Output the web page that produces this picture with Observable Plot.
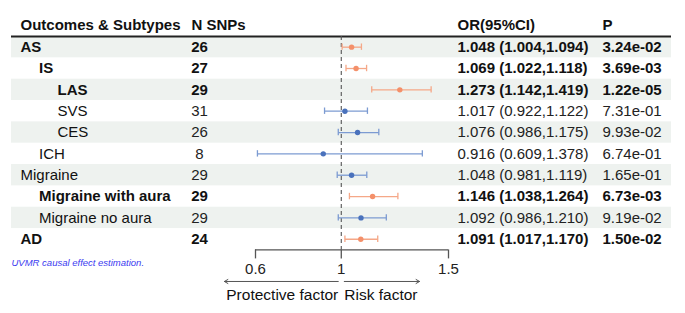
<!DOCTYPE html>
<html>
<head>
<meta charset="utf-8">
<script src="https://cdn.jsdelivr.net/npm/d3@7"></script>
<script src="https://cdn.jsdelivr.net/npm/@observablehq/plot@0.6"></script>
<style>
  html, body { margin: 0; padding: 0; background: #fff; }
  #chart svg { display: block; }
</style>
</head>
<body>
<div id="chart"></div>
<script>
const outcomes = ["AS", "IS", "LAS", "SVS", "CES", "ICH", "Migraine", "Migraine with aura", "Migraine no aura", "AD"];
const levels = [0, 1, 2, 2, 2, 1, 0, 1, 1, 0];
const nSnps = [26, 27, 29, 31, 26, 8, 29, 29, 29, 24];
const orValues = [1.048, 1.069, 1.273, 1.017, 1.076, 0.916, 1.048, 1.146, 1.092, 1.091];
const lowerCI = [1.004, 1.022, 1.142, 0.922, 0.986, 0.609, 0.981, 1.038, 0.986, 1.017];
const upperCI = [1.094, 1.118, 1.419, 1.122, 1.175, 1.378, 1.119, 1.264, 1.210, 1.170];
const pValues = ["3.24e-02", "3.69e-03", "1.22e-05", "7.31e-01", "9.93e-02", "6.74e-01", "1.65e-01", "6.73e-03", "9.19e-02", "1.50e-02"];
const significant = [true, true, true, false, false, false, false, true, false, true];
const xTicks = [0.6, 1, 1.5];
const headers = ["Outcomes & Subtypes", "N SNPs", "OR(95%CI)", "P"];
const arrowEnds = [0.455, 1.365];
const directionLabels = ["Protective factor", "Risk factor"];
const caption = "UVMR causal effect estimation.";

const rows = outcomes.map((name, i) => ({
  i, name, level: levels[i], n: nSnps[i], or: orValues[i], lo: lowerCI[i], hi: upperCI[i],
  p: pValues[i], sig: significant[i],
  orText: `${orValues[i].toFixed(3)} (${lowerCI[i].toFixed(3)},${upperCI[i].toFixed(3)})`
}));

const ORANGE_LINE = "#F5A888", ORANGE_DOT = "#F4906A";
const BLUE_LINE = "#7C9BD2", BLUE_DOT = "#4A72BC";
const FONT = "Liberation Sans, Arial, sans-serif";
const FS = 15;

const marks = [];
// shaded bands
marks.push(Plot.rect(rows.filter(d => d.i % 2 === 0), {y1: d => d.i - 0.5, y2: d => d.i + 0.5, fill: "#EEF2EF"}));
// header rule
marks.push(Plot.ruleY([-0.5], {stroke: "#222", strokeWidth: 2}));
// header texts
const headerDx = [9, 180, 446, 591];
headers.forEach((h, k) => {
  marks.push(Plot.text([h], {text: d => d, y: -1.02, frameAnchor: "left", dx: headerDx[k], textAnchor: "start", fontWeight: "bold", fontSize: FS, fill: "#111"}));
});
// name columns
for (const L of [0, 1, 2]) {
  for (const b of [true, false]) {
    const sub = rows.filter(d => d.level === L && d.sig === b);
    if (!sub.length) continue;
    marks.push(Plot.text(sub, {y: "i", text: "name", frameAnchor: "left", dx: 9 + 18.5 * L, textAnchor: "start", fontWeight: b ? "bold" : "normal", fontSize: FS, fill: "#111"}));
  }
}
for (const b of [true, false]) {
  const sub = rows.filter(d => d.sig === b);
  const fw = b ? "bold" : "normal";
  const fill = b ? "#111" : "#222";
  marks.push(Plot.text(sub, {y: "i", text: d => String(d.n), frameAnchor: "left", dx: 188, textAnchor: "middle", fontWeight: fw, fontSize: FS, fill}));
  marks.push(Plot.text(sub, {y: "i", text: "orText", frameAnchor: "left", dx: 446, textAnchor: "start", fontWeight: fw, fontSize: FS, fill}));
  marks.push(Plot.text(sub, {y: "i", text: "p", frameAnchor: "left", dx: 591, textAnchor: "start", fontWeight: fw, fontSize: FS, fill}));
}
// reference line
marks.push(Plot.ruleX([1], {stroke: "#555", strokeDasharray: "4,3", strokeWidth: 1.1}));
// error bars
for (const b of [true, false]) {
  const sub = rows.filter(d => d.sig === b);
  const lc = b ? ORANGE_LINE : BLUE_LINE;
  const dc = b ? ORANGE_DOT : BLUE_DOT;
  marks.push(Plot.link(sub, {x1: "lo", x2: "hi", y1: "i", y2: "i", stroke: lc, strokeWidth: 1.3}));
  marks.push(Plot.ruleX(sub, {x: "lo", y1: d => d.i - 0.15, y2: d => d.i + 0.15, stroke: lc, strokeWidth: 1.3}));
  marks.push(Plot.ruleX(sub, {x: "hi", y1: d => d.i - 0.15, y2: d => d.i + 0.15, stroke: lc, strokeWidth: 1.3}));
  marks.push(Plot.dot(sub, {x: "or", y: "i", r: 2.7, fill: dc, stroke: "none"}));
}
// x axis
marks.push(Plot.ruleY([9.5], {x1: xTicks[0], x2: xTicks[xTicks.length - 1], stroke: "#555", strokeWidth: 1.3}));
marks.push(Plot.axisX({ticks: xTicks, tickFormat: d => String(d), anchor: "bottom", tickSize: 9, tickPadding: 4, fontSize: FS, color: "#222", stroke: "#555", strokeWidth: 1.3}));
// direction arrows
marks.push(Plot.arrow([arrowEnds[0]], {x1: 1, x2: d => d, y1: 10.98, y2: 10.98, insetStart: 3, bend: 0, headLength: 6, stroke: "#555", strokeWidth: 1}));
marks.push(Plot.arrow([arrowEnds[1]], {x1: 1, x2: d => d, y1: 10.98, y2: 10.98, insetStart: 3, bend: 0, headLength: 6, stroke: "#555", strokeWidth: 1}));
marks.push(Plot.text([directionLabels[0]], {text: d => d, x: 1, y: 11.6, dx: -3, textAnchor: "end", fontSize: FS + 0.5, fill: "#111"}));
marks.push(Plot.text([directionLabels[1]], {text: d => d, x: 1, y: 11.6, dx: 3, textAnchor: "start", fontSize: FS + 0.5, fill: "#111"}));
// caption
marks.push(Plot.text([caption], {text: d => d, y: 10.1, frameAnchor: "left", dx: 0, textAnchor: "start", fontSize: 9.5, fontStyle: "italic", fill: "#3B3BF0"}));

const plot = Plot.plot({
  width: 685,
  height: 313,
  marginTop: 36,
  marginBottom: 313 - 249.4,
  marginLeft: 11,
  marginRight: 14,
  style: {fontFamily: FONT, fontSize: "15px", background: "#fff", overflow: "visible"},
  x: {domain: [0.6, 1.5], range: [255, 448], axis: null},
  y: {domain: [-0.5, 9.5], reverse: true, axis: null},
  marks
});
document.getElementById("chart").appendChild(plot);
</script>
</body>
</html>
